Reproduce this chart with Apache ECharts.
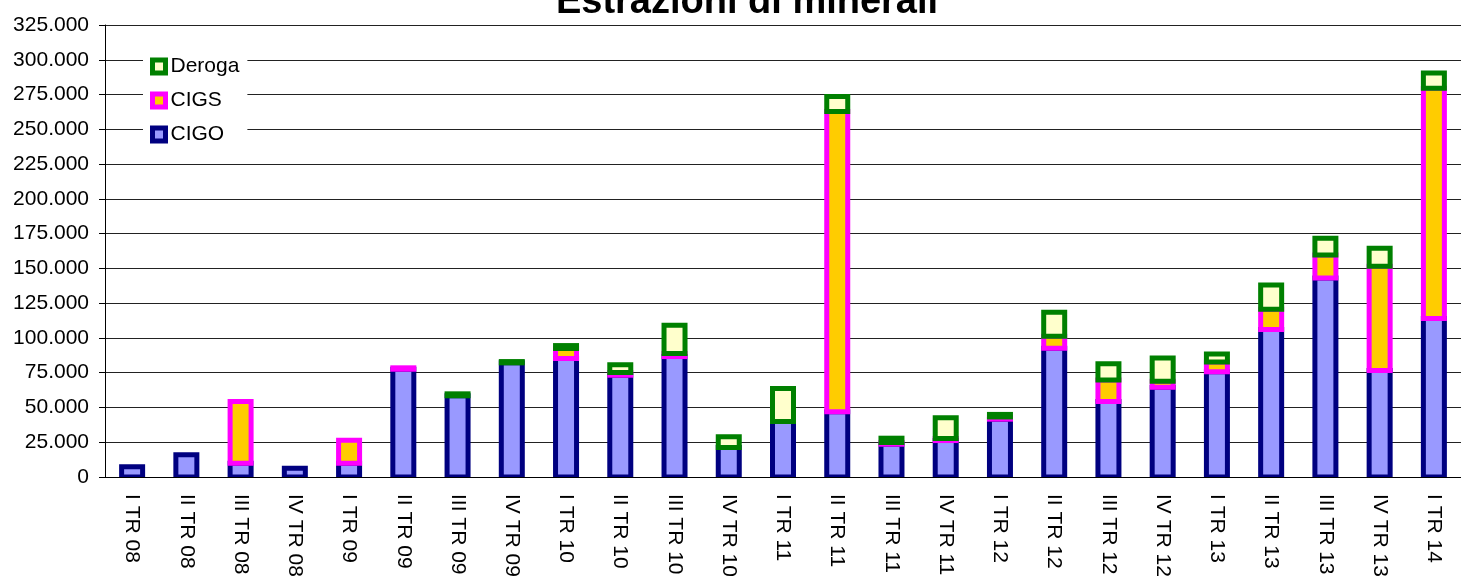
<!DOCTYPE html>
<html>
<head>
<meta charset="utf-8">
<script src="https://cdn.jsdelivr.net/npm/echarts@6/dist/echarts.min.js"></script>
<style>
  html, body { margin: 0; padding: 0; background: #fff; }
  #main { width: 1461px; height: 585px; }
</style>
</head>
<body>
<div id="main"></div>
<script>
// trimestri
var categories = ['I TR 08', 'II TR 08', 'III TR 08', 'IV TR 08',
  'I TR 09', 'II TR 09', 'III TR 09', 'IV TR 09',
  'I TR 10', 'II TR 10', 'III TR 10', 'IV TR 10',
  'I TR 11', 'II TR 11', 'III TR 11', 'IV TR 11',
  'I TR 12', 'II TR 12', 'III TR 12', 'IV TR 12',
  'I TR 13', 'II TR 13', 'III TR 13', 'IV TR 13',
  'I TR 14'];
// ore autorizzate
var cigo = [7300, 16000, 9900, 6300, 9900, 77500, 58400, 82100, 85200, 73200, 86600, 21200,
  39900, 46900, 23600, 26200, 41600, 92600, 54200, 64600, 75600, 106000, 143000, 76500, 114000];
var cigs = [null, null, 44400, null, 16600, 1000, null, null, 7200, 1900, 2200, null,
  null, 215900, 1200, 1500, 1600, 8600, 15500, 4300, 7000, 14700, 16600, 75100, 165500];
var deroga = [null, null, null, null, null, null, 1400, 900, 2100, 5600, 20300, 7700,
  23700, 10800, 3100, 14900, 1800, 17300, 11800, 16600, 5800, 17300, 12000, 12800, 11000];

var font = 'Arial, "Liberation Sans", sans-serif';

//formato italiano con il punto per le migliaia
function fmt(v) {
  return String(v).replace(/\B(?=(\d{3})+(?!\d))/g, '.');
}

// serie impilate: il bordo sta a cavallo del bordo della barra, come in Excel
var layers = [
  { name: 'CIGO', values: cigo, fill: '#9999FF', border: '#000080' },
  { name: 'CIGS', values: cigs, fill: '#FFCC00', border: '#FF00FF' },
  { name: 'Deroga', values: deroga, fill: '#FFFFCC', border: '#008000' }
]

function renderBar(fill, border) {
  return function (params, api) {
    var top = api.coord([api.value(0), api.value(2)]);
    var bottom = api.coord([api.value(0), api.value(1)]);
    var w = 21;
    return {
      type: 'rect',
      shape: { x: top[0] - w / 2, y: top[1], width: w, height: bottom[1] - top[1] },
      style: { fill: fill, stroke: border, lineWidth: 5 }
    };
  };
}

var base = categories.map(function () { return 0; });
var series = [];
for (var i = 0; i < layers.length; i++) {
  var d = [];
  for (var j = 0; j < categories.length; j++) {
    var v = layers[i].values[j];
    if (v == null) continue;
    d.push([j, base[j], base[j] + v]);
    base[j] += v;
  }
  series.push({
    name: layers[i].name,
    type: 'custom',
    clip: true,
    encode: { x: 0, y: [1, 2] },
    itemStyle: { color: layers[i].fill, borderColor: layers[i].border },
    renderItem: renderBar(layers[i].fill, layers[i].border),
    data: d
  });
}

var legendData = [];
for (var k = layers.length - 1; k >= 0; k--) {
  legendData.push({
    name: layers[k].name,
    icon: 'rect',
    itemStyle: { color: layers[k].fill, borderColor: layers[k].border, borderWidth: 5 }
  });
}

var myChart = echarts.init(document.getElementById('main'));
var option = {}
option.animation = false
option.title = {
  text: 'Estrazioni di minerali',
  left: 742,
  textAlign: 'center',
  top: -21,
  textStyle: { fontFamily: font, fontSize: 38, fontWeight: 'bold', color: '#000' }
}
option.grid = { left: 105, right: 0, top: 25, bottom: 108, containLabel: false }
option.legend = {
  data: legendData,
  orient: 'vertical',
  left: 143,
  top: 49,
  padding: [7, 8, 7, 7],
  backgroundColor: '#fff',
  itemWidth: 13,
  itemHeight: 13,
  itemGap: 13,
  selectedMode: false,
  textStyle: { fontFamily: font, fontSize: 21, color: '#000' }
}
option.xAxis = {
  type: 'category',
  data: categories,
  axisLine: { lineStyle: { color: '#000', width: 1 } },
  axisTick: { length: 6, lineStyle: { color: '#000' } },
  axisLabel: { rotate: -90, margin: 17, fontFamily: font, fontSize: 21, color: '#000', interval: 0 }
}
option.yAxis = {
  type: 'value',
  min: 0,
  max: 325000,
  interval: 25000,
  axisLine: { show: true, lineStyle: { color: '#000', width: 1 } },
  axisTick: { show: true, length: 6, lineStyle: { color: '#000' } },
  axisLabel: { margin: 16, fontFamily: font, fontSize: 21, color: '#000', formatter: fmt },
  splitLine: { lineStyle: { color: '#222', width: 1 } }
}
option.series = series
myChart.setOption(option)
</script>
</body>
</html>
